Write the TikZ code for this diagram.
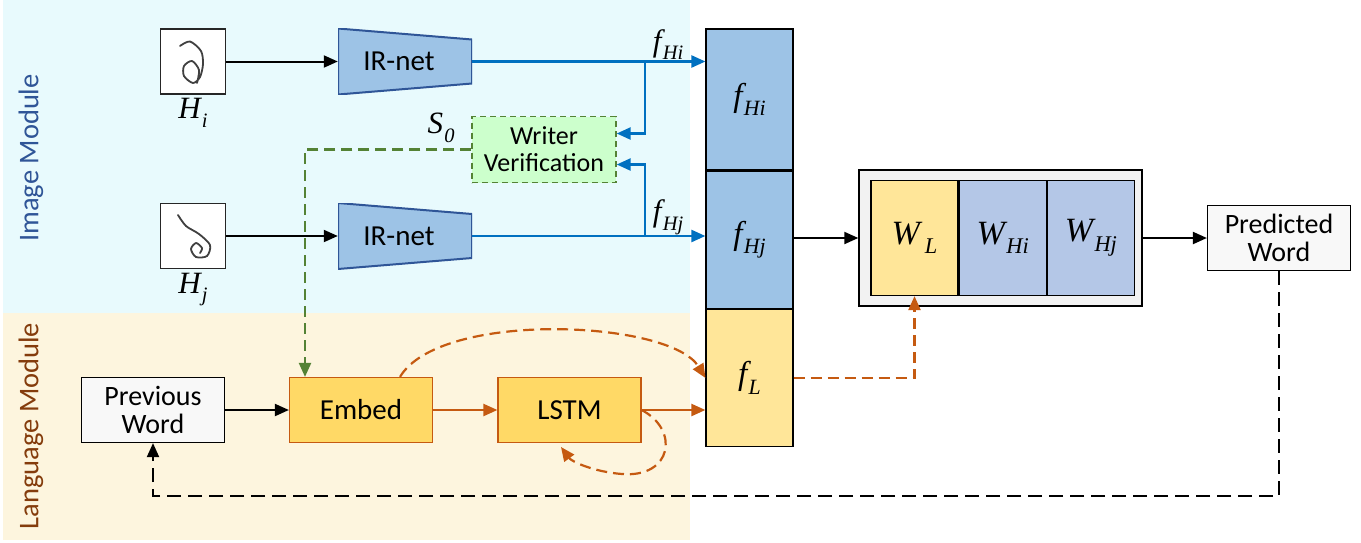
\documentclass[tikz,border=0pt]{standalone}
\usepackage{fontspec}
\setmainfont{Carlito}
\newfontfamily\serifit[ItalicFont=Liberation Serif Italic]{Liberation Serif}
\usetikzlibrary{positioning,arrows.meta}

\definecolor{imgbg}{HTML}{E8FAFD}
\definecolor{langbg}{HTML}{FDF5DE}
\definecolor{imgtext}{HTML}{2F5597}
\definecolor{langtext}{HTML}{843C0C}
\definecolor{featblue}{HTML}{9DC3E6}
\definecolor{irline}{HTML}{2F5597}
\definecolor{wblue}{HTML}{B4C7E7}
\definecolor{lyellow}{HTML}{FFE699}
\definecolor{lstmfill}{HTML}{FFD966}
\definecolor{orangeline}{HTML}{C55A11}
\definecolor{blueline}{HTML}{0070C0}
\definecolor{greenline}{HTML}{548235}
\definecolor{wvfill}{HTML}{CCFFCC}
\definecolor{wordfill}{HTML}{F8F8F8}
\definecolor{boxgray}{HTML}{F2F2F2}

% italic symbol with a lowered index
\newcommand{\featsym}[2]{{\serifit\itshape #1\kern0.04em\raisebox{-0.28em}{\scalebox{0.66}{#2}}}}

\begin{document}
\begin{tikzpicture}[
    x=1pt, y=-1pt,
    >={Triangle[length=14pt,width=12pt]},
    every node/.style={font=\fontsize{28}{28}\selectfont},
    block/.style={rectangle, draw, line width=1.2pt, minimum width=143pt, minimum height=65pt, align=center},
    wordbox/.style={block, fill=wordfill},
    langbox/.style={block, draw=orangeline, fill=lstmfill},
    imgbox/.style={rectangle, draw=black!85, line width=1.4pt, fill=white, minimum size=65pt},
    irnet/.style={minimum width=134pt, minimum height=66pt, inner sep=0pt,
        path picture={\filldraw[fill=featblue, draw=irline, line width=2pt]
            (path picture bounding box.north west) -- ([yshift=-11pt]path picture bounding box.north east)
            -- ([yshift=11pt]path picture bounding box.south east) -- (path picture bounding box.south west) -- cycle;}},
    feat/.style={rectangle, draw, line width=1.2pt, minimum width=87pt, font=\fontsize{33}{33}\selectfont},
    wcell/.style={rectangle, draw, line width=1.2pt, minimum width=87pt, minimum height=115pt, font=\fontsize{34}{34}\selectfont},
    symlabel/.style={font=\fontsize{31}{31}\selectfont, text=black},
    modlabel/.style={rotate=90, font=\fontsize{28.5}{28.5}\selectfont},
    glyph/.style={line width=1.8pt, black!75, line cap=round},
    blk/.style={->, line width=2pt},
    bluearrow/.style={->, line width=2.4pt, blueline},
    orangearrow/.style={->, line width=2.2pt, orangeline},
    orangedash/.style={orangearrow, dash pattern=on 11pt off 6pt},
    greendash/.style={->, line width=2.2pt, greenline, dash pattern=on 11pt off 6pt},
    feedback/.style={->, line width=2pt, dash pattern=on 14pt off 7pt},
]
    \useasboundingbox (0,0) rectangle (1361,542);

    % module backgrounds
    \fill[imgbg] (3,0) rectangle (690,313);
    \fill[langbg] (3,313) rectangle (690,540);
    \node[modlabel, imgtext] (imglabel) at (31,158) {Image Module};
    \node[modlabel, langtext] (langlabel) at (31,426) {Language Module};

    % image module
    \node[imgbox] (hi) at (193,61.5) {};
    \node[imgbox] (hj) at (193,236) {};
    \node[symlabel, below=0pt of hi] (hilabel) {\featsym{H}{i}};
    \node[symlabel, below=0pt of hj] (hjlabel) {\featsym{H}{j}};
    \draw[glyph] plot[smooth] coordinates {(180,46) (190,41.5) (201,51) (203,64) (200,77) (193,83) (184,76) (184,66) (192,61) (199,70) (197,83)};
    \draw[glyph] plot[smooth] coordinates {(178,215) (186,226) (199,234) (210,245) (207,256) (196,257) (191,249) (196,243) (202,248) (200,253)};

    \node[irnet, font=\fontsize{29}{29}\selectfont] (irneti) at (405,61.5) {\hspace*{-12pt}IR-net};
    \node[irnet, font=\fontsize{29}{29}\selectfont] (irnetj) at (405,236) {\hspace*{-12pt}IR-net};

    \node[block, draw=greenline, dash pattern=on 6pt off 4pt, line width=1.4pt, fill=wvfill,
          minimum width=144pt, minimum height=66pt, inner sep=2pt, font=\fontsize{26}{27}\selectfont] (wv) at (544,149.5) {Writer\\Verification};
    \node[symlabel] (s0) at (441,128) {\featsym{S}{0}};

    % feature column
    \node[feat, fill=featblue, minimum height=141pt] (fhi) at (749.5,99.5) {\featsym{f}{Hi}};
    \node[feat, fill=featblue, minimum height=137pt, below=0pt of fhi] (fhj) {\featsym{f}{Hj}};
    \node[feat, fill=lyellow, minimum height=137pt, below=0pt of fhj] (fl) {\featsym{f}{L}};

    % weight block
    \node[rectangle, draw, line width=1.4pt, fill=boxgray, minimum width=283pt, minimum height=136pt] (wbox) at (1000.5,238) {};
    \node[wcell, fill=lyellow] (wl) at (914.5,238) {\featsym{W}{\,L}};
    \node[wcell, fill=wblue, right=0pt of wl] (whi) {\featsym{W}{Hi}};
    \node[wcell, fill=wblue, right=0pt of whi] (whj) {\featsym{W}{Hj}};

    \node[wordbox] (pred) at (1279,238) {Predicted\\Word};

    % language module
    \node[wordbox] (prev) at (153,410) {Previous\\Word};
    \node[langbox, font=\fontsize{29}{29}\selectfont] (embed) at (361,410) {Embed};
    \node[langbox, font=\fontsize{29}{29}\selectfont] (lstm) at (569.5,410) {LSTM};

    % connectors
    \draw[blk] (hi) -- (irneti);
    \draw[blk] (hj) -- (irnetj);
    \draw[bluearrow] (irneti.east) -- (irneti.east -| fhi.west) node[symlabel, pos=0.84, above=-3pt] (fhilabel) {\featsym{f}{Hi}};
    \draw[bluearrow] (irnetj.east) -- (irnetj.east -| fhj.west) node[symlabel, pos=0.84, above=-3pt] (fhjlabel) {\featsym{f}{Hj}};
    \coordinate (spliti) at (645,61.5);
    \coordinate (splitj) at (645,236);
    \draw[bluearrow] (spliti) |- ([yshift=16pt]wv.east);
    \draw[bluearrow] (splitj) |- ([yshift=-15pt]wv.east);
    \draw[greendash] (wv.west) -| ([xshift=-56pt]embed.north);

    \draw[blk] (wbox.west -| fhj.east) -- (wbox.west);
    \draw[blk] (wbox.east) -- (pred.west);
    \draw[blk] (prev) -- (embed);
    \draw[orangearrow] (embed) -- (lstm);
    \draw[orangearrow] (lstm.east) -- (lstm.east -| fl.west);
    \draw[orangedash] ([xshift=39pt]embed.north) .. controls (440,310) and (670,320) .. (fl.west);
    \draw[orangedash] (lstm.east) .. controls (680,430) and (672,478) .. (622,474) .. controls (595,472) and (572,462) .. (561,447);
    \draw[orangedash] (fl.east) -| (wl.south);
    \draw[feedback] (pred.south) -- ++(0,225) -| (prev.south);
\end{tikzpicture}
\end{document}
